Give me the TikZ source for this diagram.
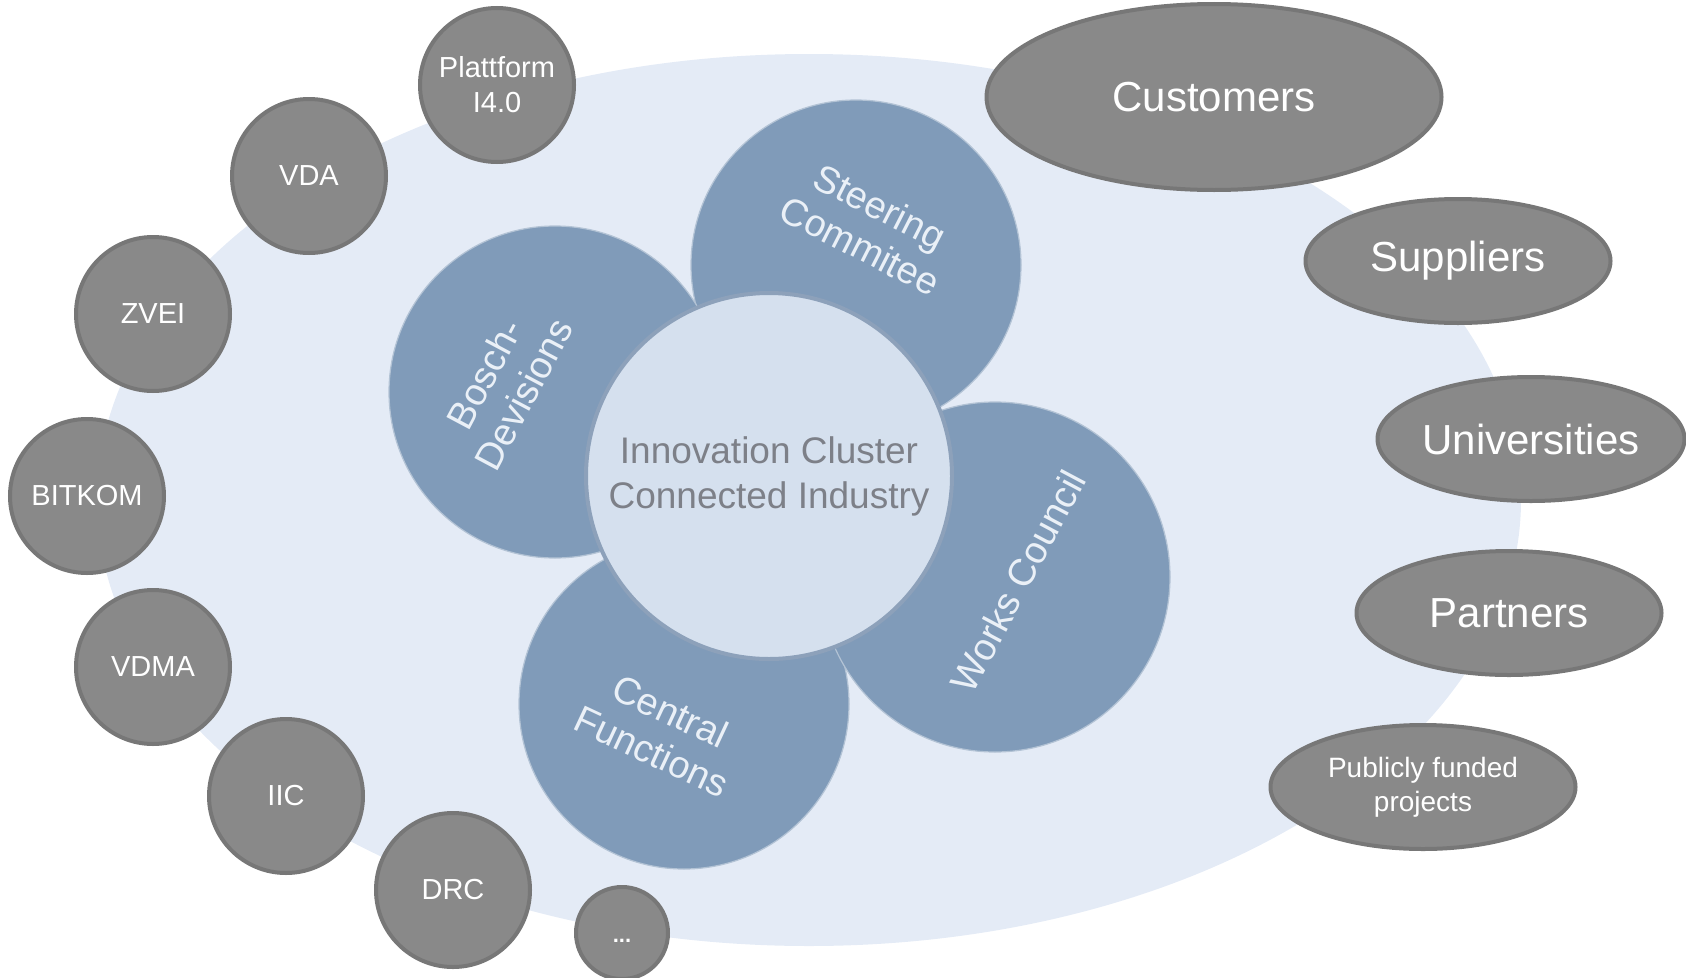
\documentclass[tikz,border=0pt]{standalone}
\usepackage{fontspec}
\setmainfont{Liberation Sans}
\usetikzlibrary{shapes.geometric}

\definecolor{cloudblue}{HTML}{E4EBF6}
\definecolor{petalblue}{HTML}{809BB9}
\definecolor{corefill}{HTML}{D5E0EE}
\definecolor{coreline}{HTML}{8DA1BA}
\definecolor{coretext}{HTML}{7D8088}
\definecolor{bubblegray}{HTML}{898989}
\definecolor{bubblerim}{HTML}{777777}
\definecolor{petaltext}{HTML}{EAF0F7}

\begin{document}
\begin{tikzpicture}
  [x=1pt,y=-1pt,
   % Styles
   petal/.style={circle,fill=petalblue,draw=petalblue!60!white,line width=1.2pt,inner sep=0pt},
   petal label/.style={text=petaltext,align=center,font=\fontsize{38}{44}\selectfont},
   core/.style={circle,fill=corefill,draw=coreline,line width=4pt,inner sep=0pt,
     minimum size=366pt,text=coretext,align=center,font=\fontsize{37}{45}\selectfont},
   member/.style={circle,fill=bubblegray,draw=bubblerim,line width=4pt,inner sep=0pt,
     minimum size=154pt,text=white,align=center,font=\fontsize{29}{35}\selectfont},
   partner/.style={ellipse,fill=bubblegray,draw=bubblerim,line width=4pt,inner sep=0pt,
     minimum width=305pt,minimum height=124pt,text=white,align=center,
     font=\fontsize{42}{46}\selectfont}]

  \useasboundingbox (0,0) rectangle (1686,977);

  % The cloud behind everything
  \fill[cloudblue] (809,500) ellipse [x radius=712pt,y radius=446pt];

  % Associations on the left
  \node[member] (plattform) at (497,85)  {Plattform\\I4.0};
  \node[member] (vda)       at (309,176) {VDA};
  \node[member] (zvei)      at (153,314) {ZVEI};
  \node[member] (bitkom)    at (87,496)  {BITKOM};
  \node[member] (vdma)      at (153,667) {VDMA};
  \node[member] (iic)       at (286,796) {IIC};
  \node[member] (drc)       at (453,890) {DRC};
  \node[member,minimum size=92pt,
    label={[text=white,yshift=-8pt,font=\bfseries\fontsize{22}{24}\selectfont]center:...}]
    (more) at (622,933) {};

  % External partners on the right
  \node[partner,minimum width=455pt,minimum height=186pt] (customers) at (1214,97) {Customers};
  \node[partner] (suppliers)    at (1458,261) {Suppliers};
  \node[partner] (universities) at (1531,439) {Universities};
  \node[partner] (partners)     at (1509,613) {Partners};
  \node[partner,font=\fontsize{28}{34}\selectfont] (funded) at (1423,787) {Publicly funded\\projects};

  % The petals
  \node[petal,minimum size=330pt] (steering) at (856,265) {};
  \node[petal,minimum size=332pt] (bosch)    at (555,392) {};
  \node[petal,minimum size=330pt] (central)  at (684,704) {};
  \node[petal,minimum size=350pt] (works)    at (995,577) {};

  \node[petal label,rotate=-27] (steering label) at (870,226) {Steering\\Commitee};
  \node[petal label,rotate=62]  (bosch label)    at (504,384) {Bosch-\\Devisions};
  \node[petal label,rotate=-25] (central label)  at (661,731) {Central\\Functions};
  \node[petal label,rotate=62]  (works label)    at (1018,581) {Works Council};

  % The cluster itself
  \node[core] (cluster) at (769,476) {Innovation Cluster\\Connected Industry};
\end{tikzpicture}
\end{document}
